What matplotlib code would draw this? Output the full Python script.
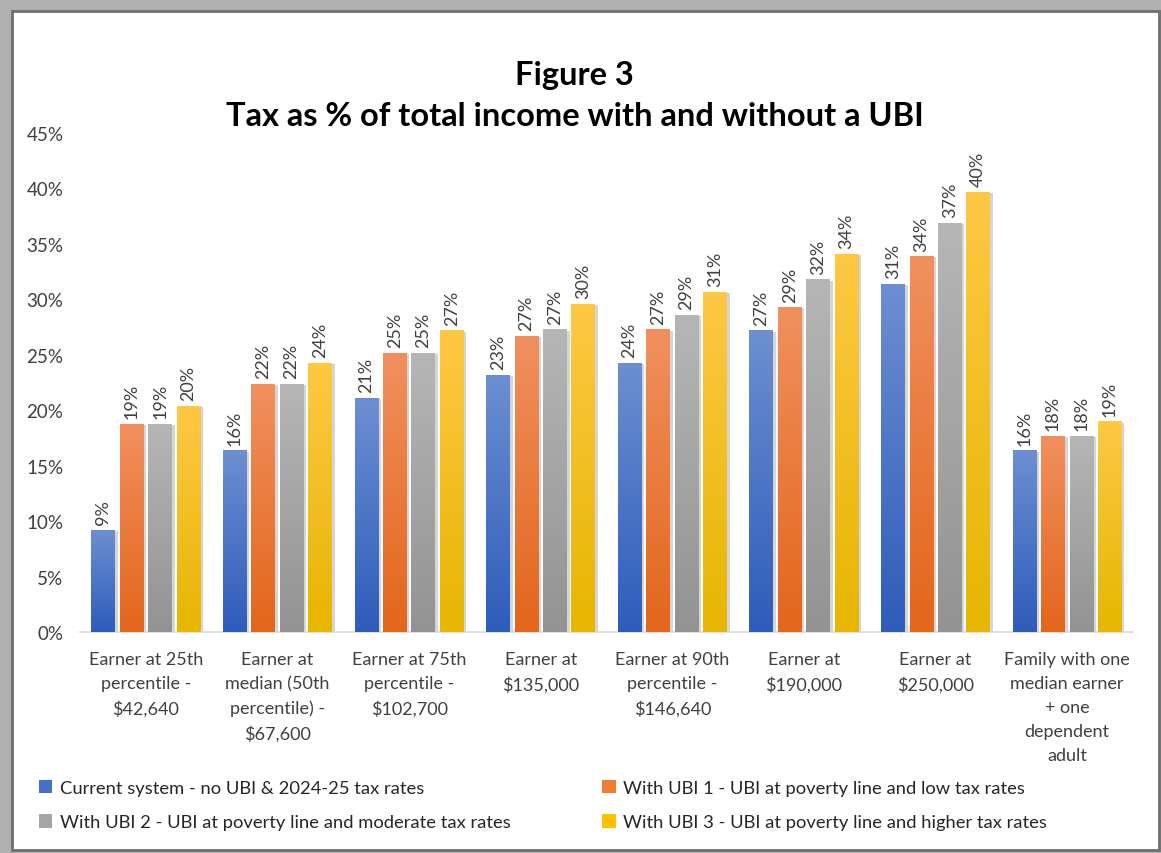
import numpy as np
import matplotlib
matplotlib.use("Agg")
import matplotlib.pyplot as plt
from matplotlib.patches import Rectangle
from matplotlib.colors import LinearSegmentedColormap
import matplotlib.patheffects as pe

plt.rcParams['font.family'] = ['Lato', 'DejaVu Sans']

categories = [
    "Earner at 25th\npercentile -\n$42,640",
    "Earner at\nmedian (50th\npercentile) -\n$67,600",
    "Earner at 75th\npercentile -\n$102,700",
    "Earner at\n$135,000",
    "Earner at 90th\npercentile -\n$146,640",
    "Earner at\n$190,000",
    "Earner at\n$250,000",
    "Family with one\nmedian earner\n+ one\ndependent\nadult",
]
series_names = [
    "Current system - no UBI & 2024-25 tax rates",
    "With UBI 1 - UBI at poverty line and low tax rates",
    "With UBI 2 - UBI at poverty line and moderate tax rates",
    "With UBI 3 - UBI at poverty line and higher tax rates",
]
current = [9.2, 16.4, 21.1, 23.2, 24.3, 27.2, 31.4, 16.4]
ubi1 = [18.8, 22.4, 25.2, 26.7, 27.3, 29.3, 33.9, 17.7]
ubi2 = [18.8, 22.4, 25.2, 27.3, 28.6, 31.8, 36.9, 17.7]
ubi3 = [20.4, 24.3, 27.2, 29.6, 30.7, 34.1, 39.7, 19.0]
series = [current, ubi1, ubi2, ubi3]

base_colors = ['#4472C4', '#ED7D31', '#A5A5A5', '#FFC000']
grad = [('#6d8fd2', '#2d5cba'), ('#f1905f', '#e3661b'),
        ('#b6b6b6', '#939393'), ('#ffc845', '#e6b600')]

W, H = 1161, 854
fig = plt.figure(figsize=(W / 100, H / 100), dpi=100)
fig.patch.set_facecolor('#b0b0b0')
# white chart area with dark frame
fig.patches.append(Rectangle((12 / W, 3 / H), 1147 / W, 839 / H, transform=fig.transFigure,
                             facecolor='white', edgecolor='#6e6e6e', linewidth=2.0, zorder=-5))

ax = fig.add_axes([80 / W, (H - 633) / H, 1053 / W, 499 / H])
ax.set_facecolor('none')
ax.set_xlim(-0.5, len(categories) - 0.5)
ax.set_ylim(0, 45)

x = np.arange(len(categories))
bw = 0.18
step = 0.216
for i, vals in enumerate(series):
    pos = x + (i - 1.5) * step
    bars = ax.bar(pos, vals, bw, color=base_colors[i], zorder=2,
                  path_effects=[pe.SimplePatchShadow(offset=(2, -1), shadow_rgbFace='#888888', alpha=0.35),
                                pe.Normal()])
    cmap = LinearSegmentedColormap.from_list('g%d' % i, [grad[i][1], grad[i][0]])
    g = np.linspace(0, 1, 256).reshape(-1, 1)
    for b, v in zip(bars, vals):
        im = ax.imshow(g, cmap=cmap, aspect='auto', origin='lower', zorder=3,
                       extent=(b.get_x(), b.get_x() + bw, 0, v))
        im.set_clip_path(b)
        ax.text(b.get_x() + bw / 2, v + 0.5, '{:.0f}%'.format(v), rotation=90,
                ha='center', va='bottom', fontsize=13, color='#404040', zorder=4)

ax.set_xlim(-0.5, len(categories) - 0.5)
ax.set_ylim(0, 45)
ax.set_yticks(np.arange(0, 46, 5))
ax.set_yticklabels(['{}%'.format(v) for v in range(0, 46, 5)])
ax.set_xticks(x)
ax.set_xticklabels(categories, linespacing=1.6)
ax.tick_params(axis='x', length=0, labelsize=13, colors='#404040', pad=14)
ax.tick_params(axis='y', length=0, labelsize=13.5, colors='#404040', pad=12)
for s in ['top', 'right', 'left']:
    ax.spines[s].set_visible(False)
ax.spines['bottom'].set_color('#d9d9d9')
ax.spines['bottom'].set_linewidth(1.2)

fig.text(0.495, (H - 76) / H, 'Figure 3', ha='center', va='center',
         fontsize=23.5, fontweight='bold', color='black')
fig.text(0.495, (H - 117) / H, 'Tax as % of total income with and without a UBI', ha='center',
         va='center', fontsize=23.5, fontweight='bold', color='black')

handles = [Rectangle((0, 0), 1, 1, facecolor=base_colors[i]) for i in [0, 2, 1, 3]]
labels = [series_names[i] for i in [0, 2, 1, 3]]
fig.legend(handles, labels, ncol=2, loc='center left', bbox_to_anchor=(22 / W, (H - 806) / H),
           frameon=False, fontsize=13.2, handlelength=0.75, handleheight=0.75, handletextpad=0.4,
           columnspacing=5.0, labelspacing=1.0, labelcolor='#262626')

fig.savefig('out.png', dpi=100, facecolor=fig.get_facecolor())
